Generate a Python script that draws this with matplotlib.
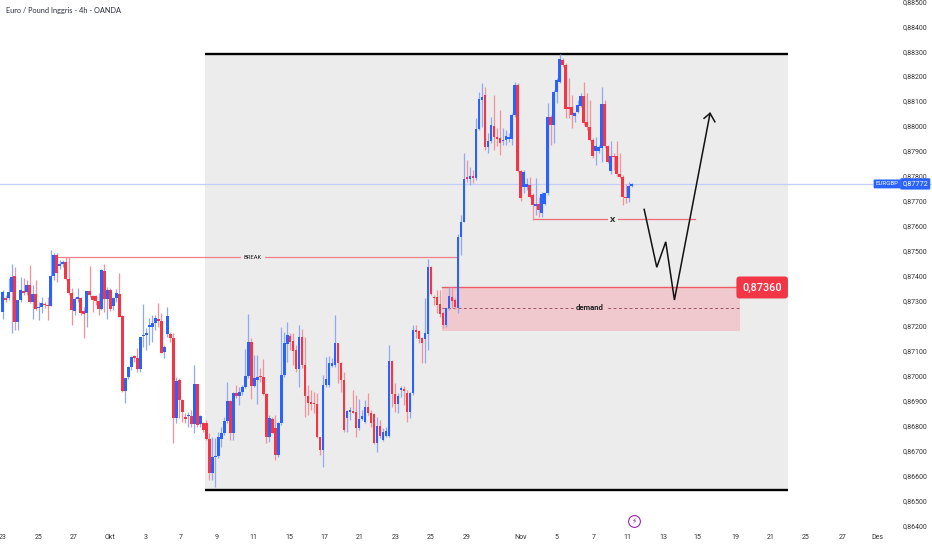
import numpy as np
import matplotlib
matplotlib.use("Agg")
import matplotlib.pyplot as plt
from matplotlib.patches import Rectangle

opens = [87260,87316,87316,87337,87403,87220,87306,87343,87340,87367,
87300,87330,87273,87277,87290,87288,87282,87403,87487,87444,
87453,87459,87389,87333,87264,87312,87314,87262,87256,87344,
87324,87322,87304,87272,87424,87310,87347,87282,87313,87330,
87242,86943,86999,87037,87082,87074,87029,87162,87165,87197,
87197,87216,87229,87224,87099,87170,87170,87153,86832,86986,
86908,86839,86842,86842,86809,86970,86808,86815,86812,86748,
86615,86676,86681,86748,86775,86823,86903,86775,86935,86922,
86939,86957,87002,87138,86962,86986,87002,86997,86930,86759,
86830,86792,86684,86812,87006,87130,87162,87144,87106,87029,
87160,87046,86922,86899,86892,86890,86756,86705,86966,86966,
87042,87046,87133,87055,86986,86835,86859,86863,86859,86795,
86828,86819,86879,86852,86850,86732,86802,86745,86762,86762,
87062,86930,86892,86946,86949,86935,86859,86933,87186,87182,
87153,87149,87170,87440,87320,87317,87289,87253,87206,87273,
87317,87307,87274,87558,87621,87801,87791,87804,87795,87992,
88109,88127,87919,87942,88004,87959,87955,87942,87948,87951,
87951,88048,88169,87825,87759,87759,87768,87728,87685,87692,
87657,87692,87735,88042,88008,88142,88182,88269,88249,88082,
88082,88046,88062,88085,88125,88022,87999,87946,87904,87904,
87915,88091,87922,87825,87884,87884,87812,87799,87721,87714,
87765]
closes = [87337,87306,87337,87400,87220,87306,87347,87336,87367,87300,
87330,87270,87277,87293,87285,87282,87403,87487,87416,87453,
87459,87389,87333,87266,87309,87317,87256,87250,87344,87326,
87306,87304,87272,87427,87310,87347,87269,87313,87333,87240,
86943,86996,87039,87079,87074,87029,87159,87166,87173,87206,
87216,87233,87224,87095,87117,87242,87153,86832,86983,86908,
86859,86828,86846,86809,86970,86805,86842,86785,86748,86615,
86679,86681,86756,86775,86823,86903,86775,86935,86922,86939,
86957,87002,87138,86962,86993,87000,86997,86930,86756,86832,
86775,86684,86812,87006,87133,87168,87140,87104,87029,87160,
87046,86922,86895,86890,86890,86756,86705,86966,86989,87053,
87053,87133,87055,86986,86786,86863,86868,86856,86795,86828,
86842,86879,86852,86812,86732,86802,86762,86779,86783,87062,
86930,86892,86922,86953,86943,86859,86935,87186,87178,87149,
87133,87173,87440,87329,87313,87287,87251,87206,87273,87323,
87304,87277,87558,87621,87791,87791,87804,87795,87992,88111,
88122,87918,87944,88008,87959,87951,87935,87948,87964,87959,
88048,88169,87825,87714,87821,87772,87721,87688,87692,87668,
87732,87737,88042,88008,88142,88189,88272,88249,88071,88071,
88048,88055,88089,88125,88018,87999,87946,87884,87924,87919,
88091,87922,87861,87884,87881,87812,87799,87719,87714,87764,
87772]
highs = [87346,87326,87393,87451,87440,87306,87400,87393,87387,87447,
87367,87387,87300,87320,87300,87320,87507,87496,87496,87467,
87469,87480,87480,87353,87320,87353,87320,87280,87344,87443,
87326,87326,87333,87433,87451,87360,87353,87320,87349,87416,
87246,86996,87042,87082,87086,87113,87159,87290,87193,87233,
87246,87246,87293,87253,87126,87277,87180,87173,86999,86993,
86912,86852,86859,86866,87046,86972,86846,86819,86826,86772,
86759,86755,86779,86799,86839,86979,86906,86939,86966,86959,
86966,87109,87250,87153,87086,87086,87033,87069,86933,86846,
86839,86846,86819,87200,87180,87220,87173,87173,87126,87206,
87189,87160,86966,86946,86939,86933,86759,87006,87080,87082,
87073,87246,87136,87059,87020,86866,86879,86946,86926,86912,
86866,86906,86935,86866,86852,86839,86826,86792,86799,87126,
87066,86973,86933,86962,86962,86946,86939,87206,87206,87186,
87160,87316,87470,87443,87327,87347,87347,87260,87273,87360,
87357,87313,87570,87648,87895,87868,87841,87828,88035,88142,
88178,88162,87975,88042,88129,87995,88069,87995,87988,87975,
88055,88182,88175,87828,87828,87795,87801,87735,87795,87721,
87741,87741,88095,88048,88149,88195,88293,88275,88255,88195,
88129,88062,88109,88135,88182,88135,88109,87955,87959,87928,
88159,88109,87928,87942,87895,87942,87895,87808,87770,87781,
87775]
lows = [87229,87300,87306,87173,87186,87186,87300,87326,87326,87293,
87229,87266,87226,87253,87273,87226,87282,87387,87380,87433,
87440,87387,87326,87206,87246,87300,87246,87153,87197,87320,
87260,87286,87246,87266,87260,87229,87264,87266,87300,87237,
86939,86895,86992,87026,87059,87019,87019,87119,87106,87126,
87140,87186,87200,87093,87073,87159,87140,86732,86812,86832,
86819,86812,86799,86799,86772,86799,86799,86779,86745,86585,
86585,86558,86672,86719,86766,86812,86745,86745,86913,86886,
86926,86953,86993,86912,86959,86892,86979,86926,86732,86739,
86772,86665,86679,86806,87000,87059,87106,87046,87019,86957,
87033,86839,86846,86866,86852,86752,86685,86639,86959,86959,
87039,87039,86973,86939,86779,86779,86826,86852,86759,86786,
86826,86812,86846,86799,86729,86699,86752,86743,86759,86759,
86879,86859,86852,86919,86886,86819,86832,86926,87153,87133,
87053,87053,87106,87327,87287,87253,87240,87193,87197,87267,
87273,87269,87254,87487,87621,87781,87768,87775,87788,87988,
88002,87908,87895,87935,87908,87922,87888,87928,87928,87938,
87928,88042,87821,87705,87735,87748,87714,87628,87648,87641,
87641,87688,87728,87928,87935,88095,88175,88242,88035,88035,
87995,88022,88055,88079,88008,87988,87942,87875,87848,87895,
87861,87915,87855,87812,87828,87804,87795,87688,87694,87701,
87761]

x_tick_pos = [0.1,12,23.8,35.8,47.9,59.5,71.6,83.6,95.6,107.3,119.3,131.3,143,155,173,185,197.5,208.5,220.5,232,244.5,256.5,268,280.3,292]
x_tick_labels = ["23","25","27","Okt","3","7","9","11","15","17","21","23","25","29","Nov","5","7","11","13","15","19","21","25","27","Des"]
y_ticks = [0.864 + 0.001*i for i in range(22)]

last_price = 0.87772
demand_top, demand_mid, demand_bottom = 0.87360, 0.87275, 0.87182
range_top, range_bottom = 0.88293, 0.86545
break_price, x_price = 0.87479, 0.87631
path_x = [214.2, 218.4, 221.4, 224.3, 236.2]
path_y = [0.87670, 0.87438, 0.87540, 0.87307, 0.88055]
head_x = [234.2, 236.2, 237.8]
head_y = [0.88035, 0.88055, 0.88021]

BLUE, RED = "#2962ff", "#f23645"
FONT = ["Roboto", "DejaVu Sans"]
TXT = "#2a2e39"
PANEL = "#ececec"
ZONE = "#f0c9ce"

o, c, h, l = [np.array(a)/1e5 for a in (opens, closes, highs, lows)]
k = np.arange(len(o))

fig = plt.figure(figsize=(9.32, 5.5), dpi=100, facecolor="white")
ax = fig.add_axes([0, 0, 1, 1])
ax.set_xlim(-0.89, 310.3)
ax.set_ylim(0.86305, 0.88509)
ax.axis("off")

ax.add_patch(Rectangle((67.6, range_bottom), 262.2-67.6, range_top-range_bottom, fc=PANEL, ec="none", zorder=1))
ax.plot([67.6, 262.2], [range_top]*2, color="black", lw=1.7, solid_capstyle="butt", zorder=2)
ax.plot([67.6, 262.2], [range_bottom]*2, color="black", lw=1.7, solid_capstyle="butt", zorder=2)

ax.axhline(last_price, color="#c3cffa", lw=0.9, zorder=2)

ax.add_patch(Rectangle((146.7, demand_bottom), 246.2-146.7, demand_top-demand_bottom, fc=ZONE, ec="none", zorder=2))
ax.plot([146.7, 246.2], [demand_top]*2, color="#ee5a66", lw=1.0, zorder=3)
ax.plot([146.7, 246.2], [demand_mid]*2, color="#a0566a", lw=0.7, ls=(0, (3, 2.5)), zorder=3)

ax.plot([18.1, 152], [break_price]*2, color="#f0808a", lw=0.9, zorder=3)
ax.plot([177.3, 231.2], [x_price]*2, color="#ee6a75", lw=0.9, zorder=3)

colors = [BLUE if cc >= oo else RED for oo, cc in zip(o, c)]
wick_colors = ["#8ea9f7" if cc >= oo else "#f3929b" for oo, cc in zip(o, c)]
ax.vlines(k, l, h, colors=wick_colors, lw=0.9, zorder=4)
bot = np.minimum(o, c)
ht = np.maximum(np.abs(c-o), 0.00004)
ax.bar(k, ht, bottom=bot, width=0.88, color=colors, linewidth=0, zorder=5)

ax.plot(path_x, path_y, color="#111111", lw=1.1, solid_joinstyle="miter", zorder=6)
ax.plot(head_x, head_y, color="#111111", lw=1.1, solid_joinstyle="miter", zorder=6)

lab = dict(family=FONT, color="#222222", ha="center", va="center", zorder=7)
ax.text(83.6, break_price, "BREAK", fontsize=4.2,
        bbox=dict(fc=PANEL, ec="none", pad=1.8), **lab)
ax.text(203.8, x_price, "X", fontsize=6, fontweight="bold",
        bbox=dict(fc=PANEL, ec="none", pad=1.8), **lab)
ax.text(196.1, demand_mid, "demand", fontsize=5.6, fontweight="bold",
        bbox=dict(fc=ZONE, ec="none", pad=1.8), **lab)
ax.text(253.6, 0.87357, "0,87360", fontsize=7.8, color="white", family="Roboto", fontweight="medium",
        ha="center", va="center", zorder=8,
        bbox=dict(boxstyle="round,pad=0.55,rounding_size=0.3", fc=RED, ec="none"))

ax.text(1.0, 0.88466, "Euro / Pound Inggris - 4h - OANDA", fontsize=5.3, family=["Lato", "Roboto"], color=TXT,
        ha="left", va="center", zorder=8)

for t in y_ticks:
    ax.text(304.6, t, f"{t:.5f}".replace(".", ","), fontsize=5.0, family=FONT, color="#333333",
            ha="center", va="center", zorder=3)

for p, s in zip(x_tick_pos, x_tick_labels):
    ax.text(p, 0.86355, s, fontsize=5.0, family=FONT, color="#333333", ha="center", va="center", zorder=3)

ax.text(295.3, last_price, "EURGBP", fontsize=4.4, family=FONT, color="white", ha="center", va="center", zorder=8,
        bbox=dict(boxstyle="round,pad=0.32,rounding_size=0.15", fc=BLUE, ec="none"))
ax.text(304.7, last_price, f"{last_price:.5f}".replace(".", ","), fontsize=5.2, family=FONT, color="white",
        ha="center", va="center", zorder=8,
        bbox=dict(boxstyle="round,pad=0.3,rounding_size=0.15", fc=BLUE, ec="none"))

ax.plot([210.8], [0.86421], marker="o", ms=8.5, mfc="white", mec="#9c27b0", mew=0.8, zorder=6)
ax.text(210.8, 0.86421, "\u26a1", fontsize=5.5, family="DejaVu Sans", color="#9c27b0", ha="center", va="center", zorder=7)

fig.savefig("out.png", dpi=100)
